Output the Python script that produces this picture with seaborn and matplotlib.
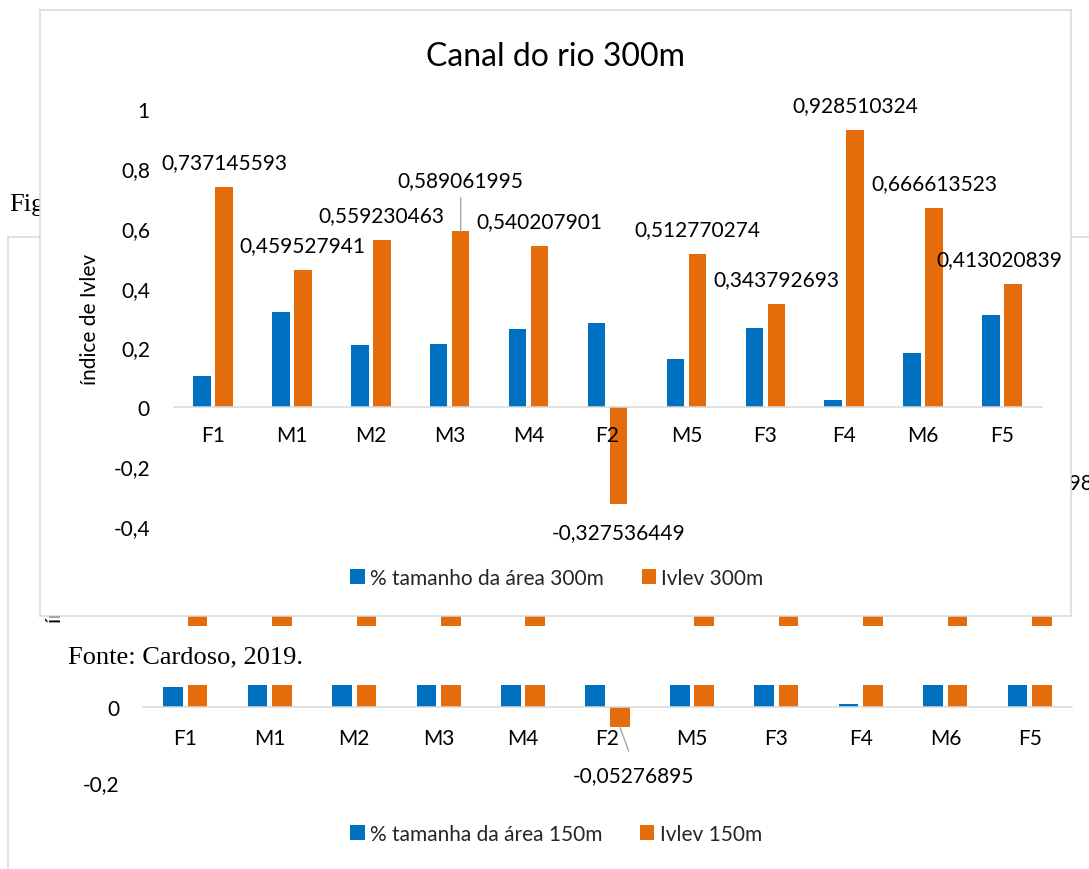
import matplotlib
matplotlib.use("Agg")
import matplotlib.pyplot as plt
import pandas as pd
import seaborn as sns

# ---- data ----------------------------------------------------------------
categorias = ["F1", "M1", "M2", "M3", "M4", "F2", "M5", "F3", "F4", "M6", "F5"]

area_300 = [0.102, 0.317, 0.208, 0.212, 0.263, 0.281, 0.160, 0.265, 0.024, 0.181, 0.309]
ivlev_300 = [0.737145593, 0.459527941, 0.559230463, 0.589061995, 0.540207901,
             -0.327536449, 0.512770274, 0.343792693, 0.928510324, 0.666613523,
             0.413020839]

area_150 = [0.053, 0.12, 0.09, 0.10, 0.13, 0.15, 0.08, 0.14, 0.008, 0.10, 0.16]
ivlev_150 = [0.64, 0.41, 0.52, 0.55, 0.50, -0.05276895, 0.47, 0.33, 0.88, 0.61,
             0.534261987]

ticks_300 = [-0.4, -0.2, 0, 0.2, 0.4, 0.6, 0.8, 1]
ticks_150 = [-0.2, 0, 0.2, 0.4, 0.6, 0.8, 1]

serie_area_300 = "% tamanho da área 300m"
serie_ivlev_300 = "Ivlev 300m"
serie_area_150 = "% tamanha da área 150m"
serie_ivlev_150 = "Ivlev 150m"

titulo = "Canal do rio 300m"
rotulo_y = "índice de Ivlev"
fonte = "Fonte: Cardoso, 2019."

AZUL = "#0070C0"
LARANJA = "#E46C0A"
CINZA = "#D9D9D9"
LINHA_GUIA = "#A6A6A6"

# ---- figure setup --------------------------------------------------------
sns.set_theme(style="white")
plt.rcParams["font.family"] = ["Lato", "DejaVu Sans"]
SERIF = ["Liberation Serif", "DejaVu Serif"]

W, H = 1089, 870
fig = plt.figure(figsize=(W / 100, H / 100), dpi=100)
fig.patch.set_facecolor("white")


def caixa(x0, y0, x1, y1):
    """Pixel box (top-left origin) -> figure fraction rect."""
    return [x0 / W, 1 - y1 / H, (x1 - x0) / W, (y1 - y0) / H]


def pos(x, y):
    return (x / W, 1 - y / H)


def fmt(v):
    if float(v).is_integer():
        return str(int(v))
    return f"{v:.1f}".replace(".", ",")


def fmt_rotulo(v):
    return f"{v:.9f}".rstrip("0").replace(".", ",")


FS = 15

# ---- document page behind the charts -------------------------------------
ax_page = fig.add_axes([0, 0, 1, 1], zorder=0)
ax_page.set_xlim(0, W)
ax_page.set_ylim(H, 0)
ax_page.axis("off")
ax_page.plot([8, 8], [238, H + 5], color=CINZA, lw=1.1)
ax_page.plot([8, W + 5], [238, 238], color=CINZA, lw=1.1)
ax_page.text(9, 211, "Figura", family=SERIF, fontsize=19, va="baseline",
             color="black")


def barras(ax, area, ivlev, nome_area, nome_ivlev, largura):
    df = pd.DataFrame({
        "categoria": categorias * 2,
        "valor": list(area) + list(ivlev),
        "série": [nome_area] * len(categorias) + [nome_ivlev] * len(categorias),
    })
    sns.barplot(data=df, x="categoria", y="valor", hue="série",
                palette=[AZUL, LARANJA], width=largura, gap=0.2,
                errorbar=None, saturation=1, linewidth=0, ax=ax)
    ax.set_axisbelow(False)
    ax.set_xlim(-0.5, len(categorias) - 0.5)
    ax.set_xlabel("")
    ax.set_ylabel("")
    for lado in ("top", "right", "left"):
        ax.spines[lado].set_visible(False)
    ax.spines["bottom"].set_position(("data", 0))
    ax.spines["bottom"].set_color(CINZA)
    ax.spines["bottom"].set_linewidth(1.1)
    ax.set_facecolor("none")


# ---- 150 m chart (lower, partly hidden) ----------------------------------
ax_low = fig.add_axes(caixa(143, 333, 1072, 783), zorder=1)
barras(ax_low, area_150, ivlev_150, serie_area_150, serie_ivlev_150, 0.58)
ax_low.set_ylim(-0.2, 1.0)
ax_low.set_yticks(ticks_150)
ax_low.set_yticklabels([fmt(t) for t in ticks_150])
ax_low.tick_params(axis="y", length=0, labelsize=FS, pad=17, colors="black")
ax_low.tick_params(axis="x", length=0, labelsize=FS, pad=15, colors="black")
ax_low.text(*pos(55, 557), rotulo_y, transform=fig.transFigure, rotation=90,
            ha="center", va="center", fontsize=FS, color="black")
for barra, v in zip(ax_low.containers[1], ivlev_150):
    xc = barra.get_x() + barra.get_width() / 2
    if v < 0:
        ax_low.annotate(fmt_rotulo(v), xy=(xc, v), xytext=(14, -48),
                        textcoords="offset pixels", ha="center", va="center",
                        fontsize=FS, color="black",
                        arrowprops=dict(arrowstyle="-", color=LINHA_GUIA, lw=1,
                                        relpos=(0.5, 1.0), shrinkA=8, shrinkB=0))
    else:
        ax_low.annotate(fmt_rotulo(v), xy=(xc, v), xytext=(0, 25),
                        textcoords="offset pixels", ha="center", va="center",
                        fontsize=FS, color="black")
sns.move_legend(ax_low, "center", bbox_to_anchor=pos(556, 835),
                bbox_transform=fig.transFigure, ncol=2, title=None,
                frameon=False, fontsize=FS, handlelength=0.7, handleheight=0.7,
                handletextpad=0.25, columnspacing=1.8)

# ---- white paragraph strip with the source line ---------------------------
ax_cover = fig.add_axes(caixa(10, 627, W + 2, 686), zorder=2)
ax_cover.set_facecolor("white")
ax_cover.set_xticks([])
ax_cover.set_yticks([])
for s in ax_cover.spines.values():
    s.set_visible(False)
ax_cover.text(*pos(68, 663), fonte, transform=fig.transFigure, family=SERIF,
              fontsize=19, va="baseline", ha="left", color="black")

# ---- 300 m chart frame ----------------------------------------------------
ax_frame = fig.add_axes(caixa(40, 11, 1071, 617), zorder=3)
ax_frame.set_facecolor("white")
ax_frame.set_xticks([])
ax_frame.set_yticks([])
for s in ax_frame.spines.values():
    s.set_color(CINZA)
    s.set_linewidth(1.1)

# ---- 300 m chart ------------------------------------------------------------
ax = fig.add_axes(caixa(173.5, 110, 1041.5, 527), zorder=4)
barras(ax, area_300, ivlev_300, serie_area_300, serie_ivlev_300, 0.557)
ax.set_ylim(-0.4, 1.0)
ax.set_yticks(ticks_300)
ax.set_yticklabels([fmt(t) for t in ticks_300])
ax.tick_params(axis="y", length=0, labelsize=FS, pad=17, colors="black")
ax.tick_params(axis="x", length=0, labelsize=FS, pad=13, colors="black")

ax.text(*pos(555, 57), titulo, transform=fig.transFigure, ha="center",
        va="center", fontsize=23, color="black")
ax.text(*pos(90, 319), rotulo_y, transform=fig.transFigure, rotation=90,
        ha="center", va="center", fontsize=FS, color="black")

# value labels on the Ivlev bars
for i, (barra, v) in enumerate(zip(ax.containers[1], ivlev_300)):
    xc = barra.get_x() + barra.get_width() / 2
    texto = fmt_rotulo(v)
    if v < 0:
        ax.annotate(texto, xy=(xc, v), xytext=(0, -28), textcoords="offset pixels",
                    ha="center", va="center", fontsize=FS, color="black")
    elif categorias[i] == "M3":
        ax.annotate(texto, xy=(xc, v), xytext=(0, 51), textcoords="offset pixels",
                    ha="center", va="center", fontsize=FS, color="black",
                    arrowprops=dict(arrowstyle="-", color=LINHA_GUIA, lw=1,
                                    relpos=(0.5, 0.0), shrinkA=3, shrinkB=0))
    elif i == len(categorias) - 1:
        ax.annotate(texto, xy=(xc, v), xytext=(-14, 25), textcoords="offset pixels",
                    ha="center", va="center", fontsize=FS, color="black")
    else:
        ax.annotate(texto, xy=(xc, v), xytext=(0, 25), textcoords="offset pixels",
                    ha="center", va="center", fontsize=FS, color="black")

sns.move_legend(ax, "center", bbox_to_anchor=pos(557, 579),
                bbox_transform=fig.transFigure, ncol=2, title=None,
                frameon=False, fontsize=FS, handlelength=0.7, handleheight=0.7,
                handletextpad=0.25, columnspacing=1.8)

fig.savefig("out.png", dpi=100, facecolor="white")
